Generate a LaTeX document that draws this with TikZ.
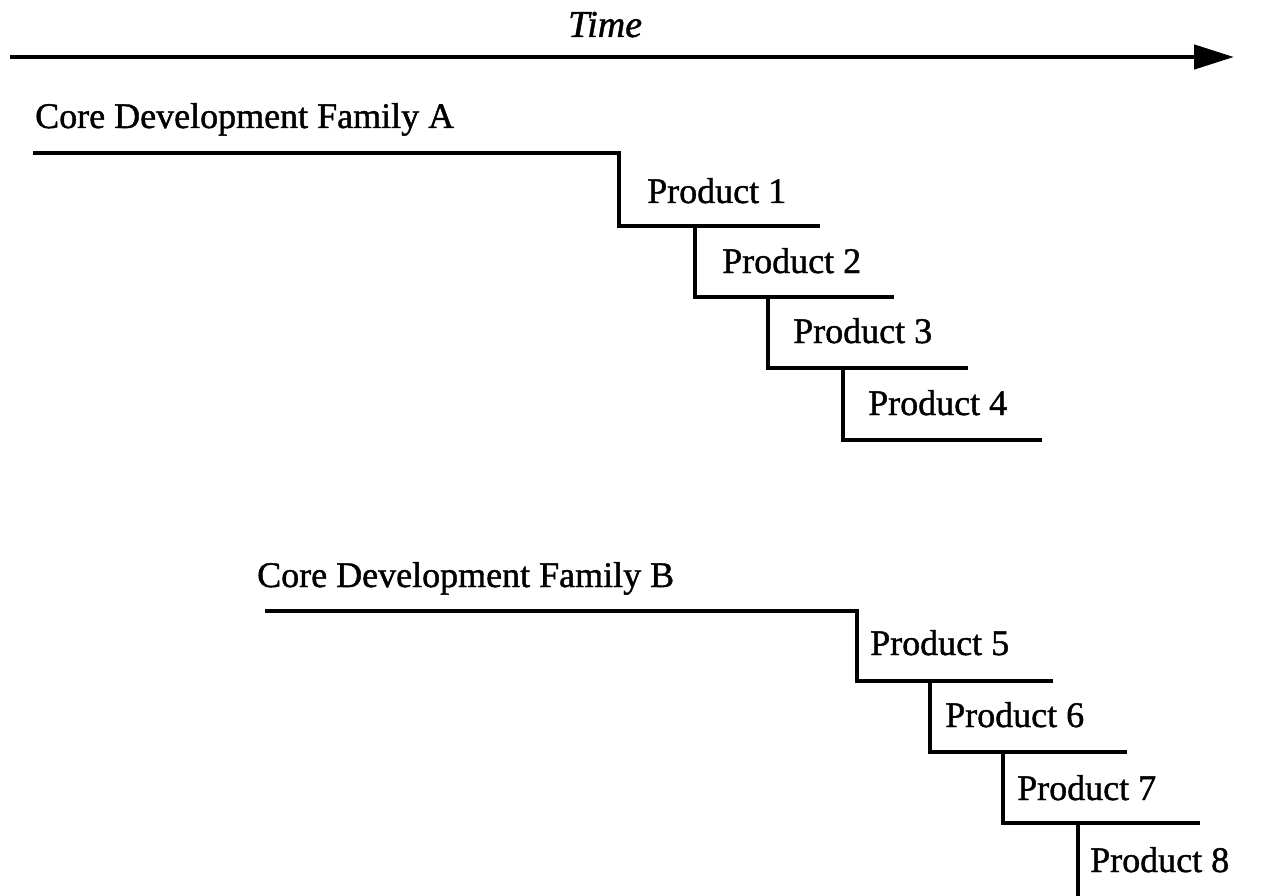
\documentclass[tikz,border=0pt]{standalone}
\usepackage{fontspec}
\setmainfont{Liberation Serif}[FakeBold=1.2]
\usetikzlibrary{arrows.meta}
\begin{document}
\begin{tikzpicture}[x=1pt,y=-1pt,
  lbl/.style={anchor=base west,inner sep=0pt,font=\fontsize{36}{40}\selectfont},
  stair/.style={line width=4.6pt,line join=miter},
  timearrow/.style={line width=4.6pt,-{Triangle[length=40pt,width=24pt]}}]
\useasboundingbox (0,0) rectangle (1279,896);
% time axis
\coordinate (t0) at (10,57);
\coordinate (t1) at (1234,57);
\draw[timearrow] (t0) -- (t1);
\node[lbl,font=\fontsize{38}{42}\selectfont\itshape] (time) at (568,37) {Time};
% Family A
\node[lbl] (famA) at (35,128) {Core Development Family A};
\node[lbl] (p1) at (647,203) {Product 1};
\node[lbl] (p2) at (722,273) {Product 2};
\node[lbl] (p3) at (793,343) {Product 3};
\node[lbl] (p4) at (868,415) {Product 4};
\coordinate (a0) at (33,153);
\coordinate (a1) at (619,153);
\coordinate (a2) at (619,226);
\coordinate (a3) at (820,226);
\coordinate (b1) at (695,226);
\coordinate (b2) at (695,297);
\coordinate (b3) at (894,297);
\coordinate (c1) at (768,297);
\coordinate (c2) at (768,368);
\coordinate (c3) at (968,368);
\coordinate (d1) at (843,368);
\coordinate (d2) at (843,440);
\coordinate (d3) at (1042,440);
\draw[stair] (a0) -- (a1) -- (a2) -- (a3);
\draw[stair] (b1) -- (b2) -- (b3);
\draw[stair] (c1) -- (c2) -- (c3);
\draw[stair] (d1) -- (d2) -- (d3);
% Family B
\node[lbl] (famB) at (257,587) {Core Development Family B};
\node[lbl] (p5) at (870,655) {Product 5};
\node[lbl] (p6) at (945,727) {Product 6};
\node[lbl] (p7) at (1017,800) {Product 7};
\node[lbl] (p8) at (1090,872) {Product 8};
\coordinate (e0) at (265,611);
\coordinate (e1) at (857,611);
\coordinate (e2) at (857,681);
\coordinate (e3) at (1053,681);
\coordinate (f1) at (930,681);
\coordinate (f2) at (930,752);
\coordinate (f3) at (1127,752);
\coordinate (g1) at (1003,752);
\coordinate (g2) at (1003,823);
\coordinate (g3) at (1200,823);
\coordinate (h1) at (1078,823);
\coordinate (h2) at (1078,896);
\draw[stair] (e0) -- (e1) -- (e2) -- (e3);
\draw[stair] (f1) -- (f2) -- (f3);
\draw[stair] (g1) -- (g2) -- (g3);
\draw[stair] (h1) -- (h2);
\end{tikzpicture}
\end{document}
